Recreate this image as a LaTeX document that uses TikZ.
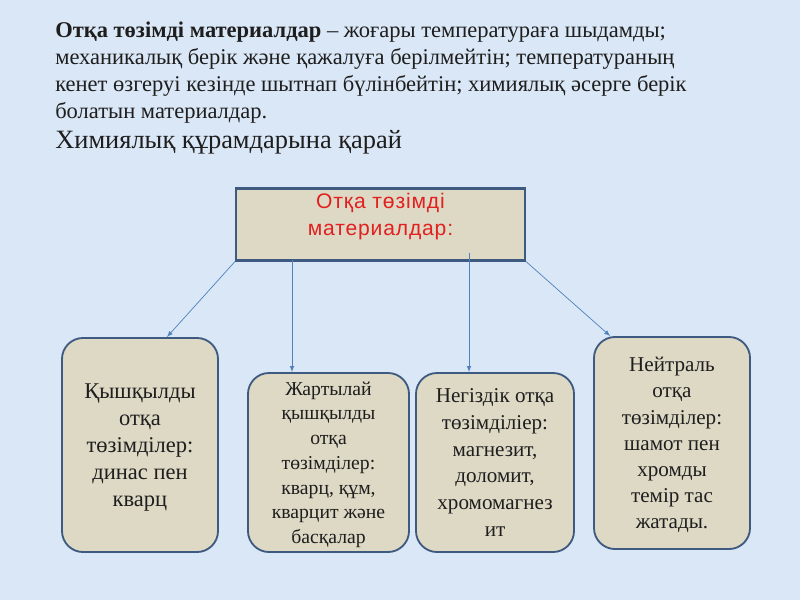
\documentclass[tikz,border=0pt]{standalone}
\usepackage{fontspec}
\setmainfont{Liberation Serif}
\newfontfamily\redsans[LetterSpace=4]{Liberation Sans}
\tikzset{>=latex}

\definecolor{slide}{RGB}{218,231,246}
\definecolor{boxfill}{RGB}{221,217,197}
\definecolor{boxline}{RGB}{62,90,128}
\definecolor{linkblue}{RGB}{79,129,189}
\definecolor{titlered}{RGB}{226,32,32}
\definecolor{ink}{RGB}{30,30,30}

\tikzset{
    kind/.style={draw=boxline, line width=1.3pt, fill=boxfill, rounded corners=15pt,
        align=center, text=ink, inner sep=2pt, text depth=0pt},
    link/.style={->, draw=linkblue, line width=0.5pt},
    textline/.style={anchor=base west, inner sep=0pt, text=ink}
}

\begin{document}
\begin{tikzpicture}[x=0.025cm, y=-0.025cm]

    % slide background
    \fill[slide] (0,0) rectangle (800,600);

    % definition text
    \node[textline, font=\fontsize{16}{19}\selectfont] (l1) at (55,37)
        {\textbf{Отқа төзімді материалдар} – жоғары температураға шыдамды;};
    \node[textline, font=\fontsize{16}{19}\selectfont] (l2) at (55,64)
        {механикалық берік және қажалуға берілмейтін; температураның};
    \node[textline, font=\fontsize{16}{19}\selectfont] (l3) at (55,91)
        {кенет өзгеруі кезінде шытнап бүлінбейтін; химиялық әсерге берік};
    \node[textline, font=\fontsize{16}{19}\selectfont] (l4) at (55,118)
        {болатын материалдар.};
    \node[textline, font=\fontsize{18.8}{23}\selectfont] (l5) at (55,148)
        {Химиялық құрамдарына қарай};

    % main box
    \node[draw=boxline, line width=1.5pt, fill=boxfill, minimum width=7.225cm, minimum height=1.575cm,
        align=center, text=titlered, text depth=0.5cm, font=\redsans\fontsize{15}{19.5}\selectfont]
        (top) at (380.5,224.5) {Отқа төзімді\\материалдар:};

    % kinds
    \node[kind, minimum width=3.9cm, minimum height=5.35cm, font=\fontsize{16}{19.2}\selectfont]
        (q1) at (140,445) {Қышқылды\\отқа\\төзімділер:\\динас пен\\кварц};
    \node[kind, minimum width=4.025cm, minimum height=4.475cm, font=\fontsize{14}{17.6}\selectfont]
        (q2) at (328.5,462.5) {Жартылай\\қышқылды\\отқа\\төзімділер:\\кварц, құм,\\кварцит және\\басқалар};
    \node[kind, minimum width=3.95cm, minimum height=4.475cm, font=\fontsize{15}{19.1}\selectfont]
        (q3) at (495,462.5) {Негіздік отқа\\төзімділіер:\\магнезит,\\доломит,\\хромомагнез\\ит};
    \node[kind, minimum width=3.9cm, minimum height=5.3cm, font=\fontsize{15}{18.6}\selectfont]
        (q4) at (672,443) {Нейтраль\\отқа\\төзімділер:\\шамот пен\\хромды\\темір тас\\жатады.};

    % arrows
    \coordinate (s2) at (292,260);
    \coordinate (s3) at (469,253);
    \draw[link] (top.south west) -- (q1.76);
    \draw[link] (s2) -- (s2 |- q2.north);
    \draw[link] (s3) -- (s3 |- q3.north);
    \draw[link] (top.south east) -- (q4.120);

\end{tikzpicture}
\end{document}
